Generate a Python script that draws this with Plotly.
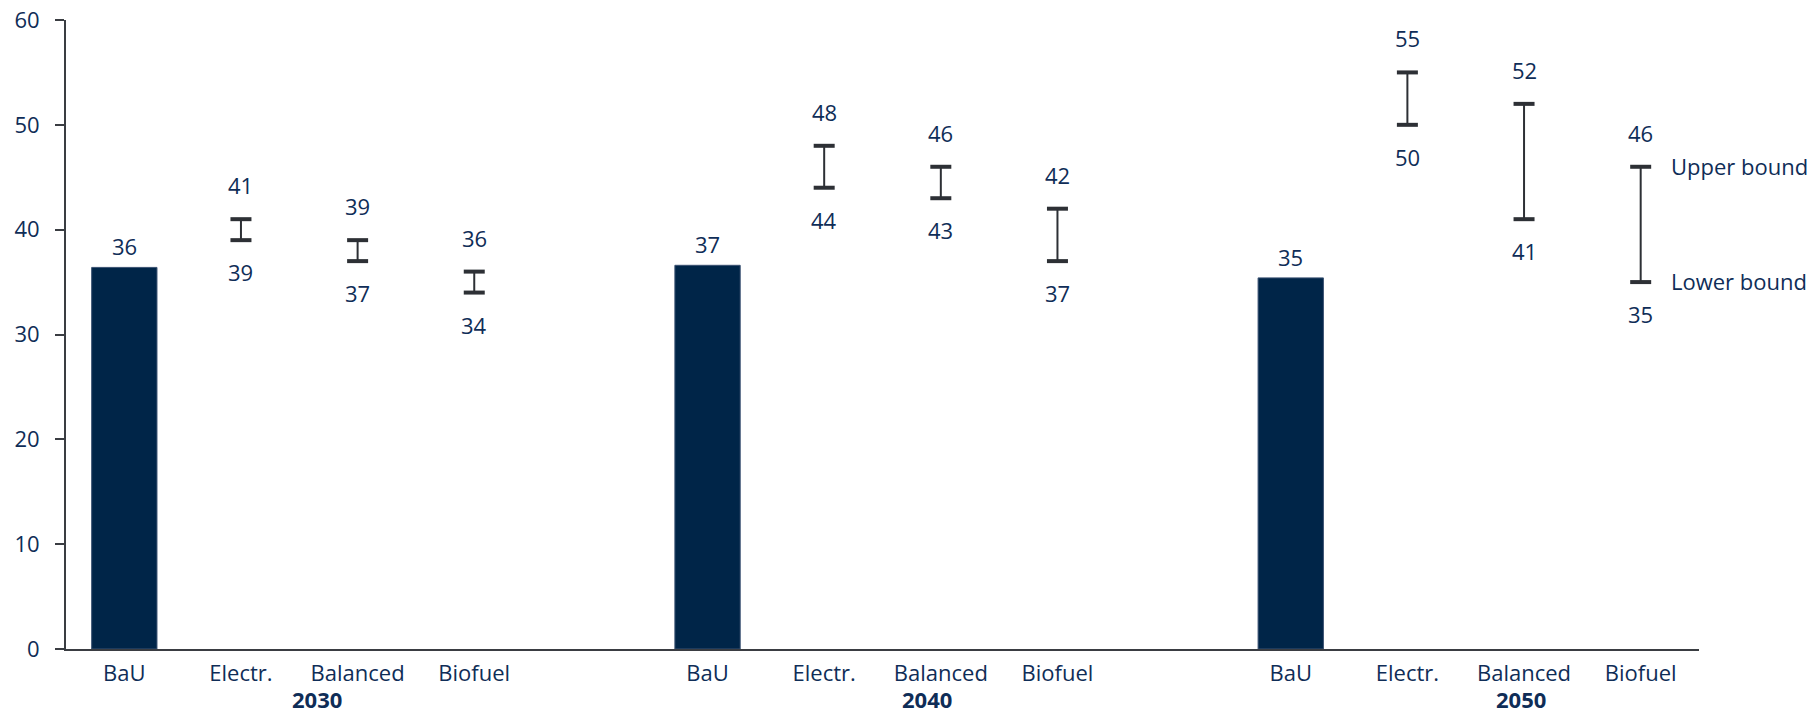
import plotly.graph_objects as go

# Scenario range chart: BaU as bars, alternative scenarios as low/high ranges
years = ["2030", "2040", "2050"]
scenarios = ["BaU", "Electr.", "Balanced", "Biofuel"]

bau = [36.4, 36.6, 35.4]

range_scenarios = ["Electr.", "Balanced", "Biofuel"]
lower = {
    "Electr.": [39, 44, 50],
    "Balanced": [37, 43, 41],
    "Biofuel": [34, 37, 35],
}
upper = {
    "Electr.": [41, 48, 55],
    "Balanced": [39, 46, 52],
    "Biofuel": [36, 42, 46],
}

# Layout constants
NAVY = "#002548"
TEXT = "#0f2d57"
AXIS = "#3a3d42"
RANGE = "#2d3035"
FONT = "Open Sans"
FS = 22
GROUP_STEP = 5  # four scenarios plus one empty slot between years
year_label_x = [1.65, 6.88, 11.97]


def slot(g, s):
    return g * GROUP_STEP + s


fig = go.Figure()

bau_x = [slot(g, 0) for g in range(len(years))]
fig.add_trace(go.Bar(
    x=bau_x, y=bau, width=0.56,
    marker=dict(color=NAVY, line=dict(color="#3b5272", width=1)),
    showlegend=False, hoverinfo="skip",
))

rx, rlo, rhi = [], [], []
for g in range(len(years)):
    for s, name in enumerate(scenarios):
        if name in lower:
            rx.append(slot(g, s))
            rlo.append(lower[name][g])
            rhi.append(upper[name][g])

mid = [(a + b) / 2 for a, b in zip(rlo, rhi)]
half = [(b - a) / 2 for a, b in zip(rlo, rhi)]

# vertical stems of the ranges
fig.add_trace(go.Scatter(
    x=rx, y=mid, mode="markers",
    marker=dict(size=1, color="rgba(0,0,0,0)"),
    error_y=dict(type="data", array=half, symmetric=True,
                 color=RANGE, thickness=2, width=0),
    showlegend=False, hoverinfo="skip",
))
# heavier caps at both bounds
fig.add_trace(go.Scatter(
    x=rx + rx, y=rlo + rhi, mode="markers",
    marker=dict(symbol="line-ew", size=15,
                line=dict(color=RANGE, width=4)),
    showlegend=False, hoverinfo="skip",
))

ann = []
for x, v in zip(bau_x, bau):
    ann.append(dict(x=x, y=v, text=f"{v:.0f}", showarrow=False,
                    yanchor="middle", yshift=21))
for x, lo, hi in zip(rx, rlo, rhi):
    ann.append(dict(x=x, y=hi, text=f"{hi:.0f}", showarrow=False,
                    yanchor="middle", yshift=34))
    ann.append(dict(x=x, y=lo, text=f"{lo:.0f}", showarrow=False,
                    yanchor="middle", yshift=-32))

# bound captions beside the last range
ann.append(dict(x=rx[-1], y=rhi[-1], text="Upper bound", showarrow=False,
                xanchor="left", yanchor="middle", xshift=28, yshift=1))
ann.append(dict(x=rx[-1], y=rlo[-1], text="Lower bound", showarrow=False,
                xanchor="left", yanchor="middle", xshift=28, yshift=1))

for xpos, yr in zip(year_label_x, years):
    ann.append(dict(x=xpos, y=0, yref="paper", text=f"<b>{yr}</b>",
                    showarrow=False, yanchor="middle", yshift=-50))

for a in ann:
    a.setdefault("font", dict(family=FONT, size=FS, color=TEXT))

tick_x = [slot(g, s) for g in range(len(years)) for s in range(len(scenarios))]
tick_t = [name for g in range(len(years)) for name in scenarios]

fig.update_layout(
    width=1817, height=714,
    margin=dict(l=66, r=118, t=20, b=65, autoexpand=False),
    paper_bgcolor="white", plot_bgcolor="white",
    font=dict(family=FONT, size=FS, color=TEXT),
    annotations=ann,
    showlegend=False,
    xaxis=dict(
        range=[-0.5, 13.5], tickmode="array", tickvals=tick_x, ticktext=tick_t,
        showline=True, linecolor=AXIS, linewidth=2, ticks="",
        showgrid=False, zeroline=False, ticklabelstandoff=4, automargin=False,
        tickfont=dict(family=FONT, size=FS, color=TEXT),
    ),
    yaxis=dict(
        range=[0, 60], tickmode="array", tickvals=[0, 10, 20, 30, 40, 50, 60],
        showline=True, linecolor=AXIS, linewidth=2,
        ticks="outside", ticklen=9, tickwidth=2, tickcolor=AXIS,
        showgrid=False, zeroline=False, ticklabelstandoff=11, automargin=False,
        tickfont=dict(family=FONT, size=FS, color=TEXT),
    ),
)

fig.write_html("out.html")
